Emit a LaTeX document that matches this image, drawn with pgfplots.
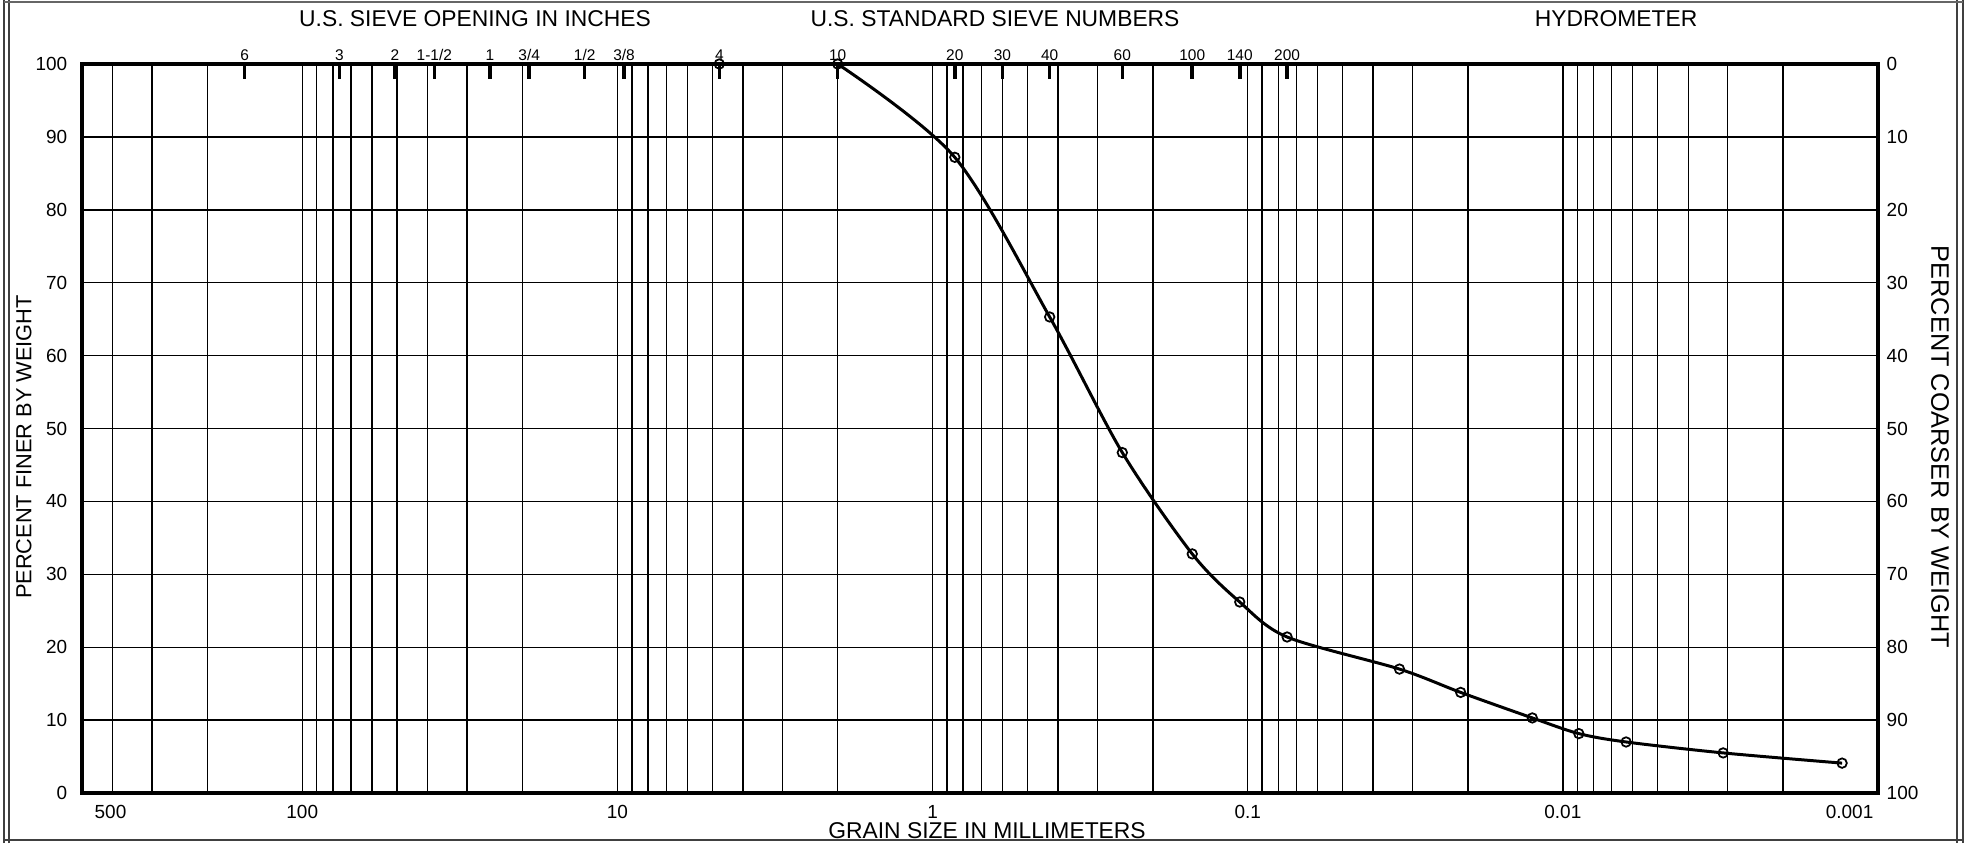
\documentclass[border=0pt]{standalone}
\usepackage{pgfplots}
\pgfplotsset{compat=1.18}
\usepackage{fontspec}
\setmainfont{Liberation Sans}
\begin{document}
\begin{tikzpicture}[x=1cm,y=1cm]
\path[use as bounding box] (0,0) rectangle (19.69,8.45);
% page frame of the scanned sheet
\draw[black!75, line width=0.5pt] (0.04,0.02) -- (0.04,8.45);
\draw[black!75, line width=0.5pt] (0.09,0.02) -- (0.09,8.45);
\draw[black!75, line width=0.5pt] (19.57,0.02) -- (19.57,8.45);
\draw[black!75, line width=0.5pt] (19.63,0.02) -- (19.63,8.45);
\draw[black!75, line width=0.5pt] (0.04,0.05) -- (19.63,0.05);
\draw[black!60, line width=0.4pt] (0.04,8.43) -- (19.63,8.43);

\begin{axis}[
  at={(0.82cm,0.52cm)}, anchor=south west, scale only axis,
  width=17.96cm, height=7.29cm,
  xmode=log, x dir=reverse, xmin=0.001, xmax=500,
  ymin=0, ymax=100,
  xtick={0.01,0.1,1,10,100}, xticklabels={0.01,0.1,1,10,100},
  minor xtick={0.002,0.003,0.004,0.005,0.006,0.007,0.008,0.009,
               0.02,0.03,0.04,0.05,0.06,0.07,0.08,0.09,
               0.2,0.3,0.4,0.5,0.6,0.7,0.8,0.9,
               2,3,4,5,6,7,8,9,
               20,30,40,50,60,70,80,90,
               200,300,400},
  ytick={0,10,...,100},
  grid=both,
  major grid style={black, line width=0.4pt},
  minor grid style={black, line width=0.4pt},
  major tick length=0pt, minor tick length=0pt,
  axis line style={line width=0.9pt},
  tick label style={font=\fontsize{5.4}{6}\selectfont},
  /pgf/number format/assume math mode=true,
  yticklabel style={anchor=east, inner sep=0pt, xshift=-0.14cm},
  xticklabel style={anchor=north, inner sep=0pt, yshift=-0.12cm},
  clip=false,
]
\addplot[black, line width=0.85pt] coordinates {(4.75,100) (2.0,100)};
\addplot[black, line width=0.85pt, smooth] coordinates {
  (2.0,100) (0.85,87.2) (0.425,65.3) (0.25,46.7) (0.15,32.8) (0.106,26.2)
  (0.075,21.4) (0.033,17.0) (0.0211,13.8) (0.0125,10.3) (0.0089,8.15)
  (0.0063,7.0) (0.0031,5.5) (0.0013,4.1)};
\addplot[only marks, mark=o, mark size=1.35pt, mark options={fill=white, line width=0.5pt, black}] coordinates {
  (4.75,100) (2.0,100) (0.85,87.2) (0.425,65.3) (0.25,46.7) (0.15,32.8) (0.106,26.2)
  (0.075,21.4) (0.033,17.0) (0.0211,13.8) (0.0125,10.3) (0.0089,8.15)
  (0.0063,7.0) (0.0031,5.5) (0.0013,4.1)};
\node[anchor=north west, inner sep=0pt, xshift=0.12cm, yshift=-0.12cm, font=\fontsize{5.4}{6}\selectfont] at (axis cs:500,0) {500};
\node[anchor=north east, inner sep=0pt, xshift=-0.04cm, yshift=-0.12cm, font=\fontsize{5.4}{6}\selectfont] at (axis cs:0.001,0) {0.001};
\end{axis}

\begin{axis}[
  at={(0.82cm,0.52cm)}, anchor=south west, scale only axis,
  width=17.96cm, height=7.29cm,
  xmode=log, x dir=reverse, xmin=0.001, xmax=500,
  ymin=0, ymax=100, y dir=reverse,
  axis x line*=top, axis y line*=right,
  axis line style={line width=0.9pt},
  xtick={152.4,76.2,50.8,38.1,25.4,19.05,12.7,9.525,4.75,2.0,0.85,0.6,0.425,0.25,0.15,0.106,0.075},
  xticklabels={6,3,2,1-1/2,1,3/4,1/2,3/8,4,10,20,30,40,60,100,140,200},
  xminorticks=false, yminorticks=false,
  tick align=inside,
  major tick length=0.15cm,
  xtick style={line width=1pt, black},
  ytick={0,10,...,100}, ytick style={draw=none},
  /pgf/number format/assume math mode=true,
  xticklabel style={font=\fontsize{4.4}{5}\selectfont, anchor=south, inner sep=0pt, yshift=0.03cm},
  yticklabel style={font=\fontsize{5.4}{6}\selectfont, anchor=west, inner sep=0pt, xshift=0.08cm},
]
\end{axis}

\node[font=\fontsize{6.5}{7}\selectfont] at (4.75,8.26) {U.S. SIEVE OPENING IN INCHES};
\node[font=\fontsize{6.5}{7}\selectfont] at (9.95,8.26) {U.S. STANDARD SIEVE NUMBERS};
\node[font=\fontsize{6.5}{7}\selectfont] at (16.16,8.26) {HYDROMETER};
\node[font=\fontsize{6.5}{7}\selectfont] at (9.87,0.14) {GRAIN SIZE IN MILLIMETERS};
\node[font=\fontsize{6.2}{7}\selectfont, rotate=90] at (0.24,3.98) {PERCENT FINER BY WEIGHT};
\node[font=\fontsize{7.2}{8}\selectfont, rotate=-90] at (19.40,3.98) {PERCENT COARSER BY WEIGHT};
\end{tikzpicture}
\end{document}
